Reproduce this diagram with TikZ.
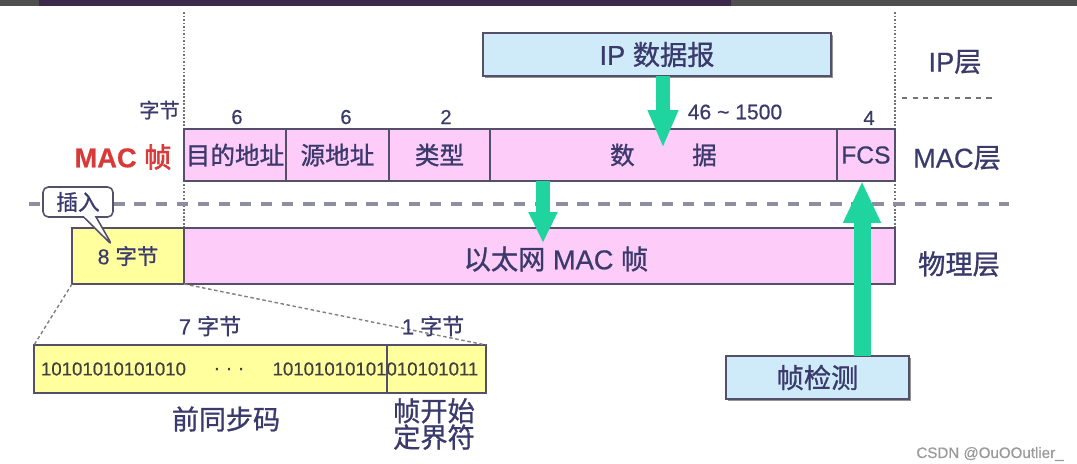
\documentclass[tikz,border=0pt]{standalone}
\usepackage{fontspec}
\setmainfont{Liberation Sans}[FakeBold=0.6]
\newfontfamily\cjk{Noto Sans CJK SC}[FakeBold=1.0,BoldFont={Noto Sans CJK SC},BoldFeatures={FakeBold=2.4}]
\usetikzlibrary{positioning,calc,shapes.callouts,shadows,arrows.meta}
\definecolor{inkcol}{HTML}{3A3A6C}
\definecolor{framecol}{HTML}{55506A}
\definecolor{pinkfill}{HTML}{FDCCF8}
\definecolor{yelfill}{HTML}{FFFF9E}
\definecolor{bluefill}{HTML}{CFEAF9}
\definecolor{arrowgreen}{HTML}{1FD49E}
\definecolor{guide}{HTML}{8E8EA0}
\definecolor{macred}{HTML}{D83A3A}
\definecolor{barpurple}{HTML}{3B2A4C}
\definecolor{bargrey}{HTML}{4F4F4F}
\definecolor{markgrey}{HTML}{9A9A9A}
\newcommand{\fsz}[1]{\fontsize{#1}{#1}\selectfont}

\begin{document}
\begin{tikzpicture}[x=0.02cm,y=-0.02cm,
    cellbox/.style={draw=framecol,line width=0.85pt,outer sep=0pt,inner sep=0pt,text=inkcol},
    macbox/.style={cellbox,fill=pinkfill,minimum height=1.04cm,font=\cjk\fsz{14}},
    phybox/.style={cellbox,minimum height=1.12cm},
    prebox/.style={cellbox,fill=yelfill,minimum height=0.96cm},
    bluebox/.style={cellbox,fill=bluefill,minimum height=0.86cm,font=\fsz{15.5},
        drop shadow={shadow xshift=1pt,shadow yshift=-1pt,fill=black!60,opacity=.7}},
    numlab/.style={text=inkcol,font=\fsz{11.5},inner sep=0pt},
    layerlab/.style={text=inkcol,font=\fsz{15.5},inner sep=0pt},
    sublab/.style={text=inkcol,font=\fsz{12.5},inner sep=0pt},
    bitlab/.style={text=black!75,font=\fsz{10.6},inner sep=0pt},
    callbox/.style={rectangle callout,draw=framecol,fill=white,line width=0.9pt,rounded corners=3pt,
        minimum width=1.4cm,minimum height=0.6cm,inner sep=0pt,text=inkcol,font=\cjk\fsz{12.3},
        callout pointer width=0.25cm},
    vguide/.style={draw=black!55,densely dotted,line width=1pt},
    layersep/.style={draw=guide,line width=2.2pt,dash pattern=on 6.5pt off 5.5pt},
    funnel/.style={draw=black!50,line width=0.8pt,dash pattern=on 2pt off 1.5pt},
    blockarrow/.style n args={3}{draw=arrowgreen,line width=#1,-{Triangle[width=#2,length=#3,fill=arrowgreen]}}
]
\useasboundingbox (0,0) rectangle (1077,463);
% video strip at the top
\fill[bargrey] (0,0) rectangle (1077,6);
\fill[barpurple] (39,0) rectangle (731,6);
% guides
\draw[vguide] (184,12) -- (184,228);
\draw[vguide] (895,12) -- (895,228);
\draw[draw=black!55,dashed,line width=1pt] (902,98) -- (992,98);
\draw[layersep] (29,204) -- (1009,204);

% IP layer
\node[bluebox,minimum width=6.96cm] (ip) at (657,54.5) {IP {\cjk 数据报}};

% MAC frame
\node[macbox,minimum width=2.04cm] (dst) at (235,155) {目的地址};
\node[macbox,minimum width=2.06cm,right=0pt of dst] (src) {源地址};
\node[macbox,minimum width=2.02cm,right=0pt of src] (type) {类型};
\node[macbox,minimum width=6.94cm,right=0pt of type] (data) {数\hspace{1.15cm}据};
\node[macbox,minimum width=1.16cm,right=0pt of data,font=\fsz{14}] (fcs) {FCS};

\node[numlab,anchor=east] (bytes) at (180,110) {\cjk 字节};
\node[numlab] (len6a) at (237,117) {6};
\node[numlab] (len6b) at (346,117) {6};
\node[numlab] (len2) at (446,117) {2};
\node[numlab,font=\fsz{12}] (lendata) at (735,112) {46 \char`\~{} 1500};
\node[numlab] (len4) at (869,118) {4};
\node[text=macred,font=\bfseries\fsz{15.5},inner sep=0pt] (maclab) at (123,157) {MAC {\cjk\bfseries 帧}};

% physical layer
\node[phybox,fill=yelfill,minimum width=2.24cm,font=\fsz{12.2}] (pre8) at (128,256) {8 {\cjk 字节}};
\node[phybox,fill=pinkfill,minimum width=14.22cm,right=0pt of pre8] (eth) {};
\node[layerlab] (ethtext) at (556,259) {{\cjk 以太网} MAC {\cjk 帧}};

\coordinate (insTip) at (112,245);
\node[callbox,callout absolute pointer={(insTip)}] (ins) at (78,202) {插入};

% layer names
\node[layerlab] (iplayer) at (955,62) {IP{\cjk 层}};
\node[layerlab] (maclayer) at (957,158) {MAC{\cjk 层}};
\node[layerlab,font=\cjk\fsz{15.5}] (phylayer) at (959,264) {物理层};

% preamble detail
\node[prebox,minimum width=7.06cm] (pre7) at (210.5,369) {};
\node[prebox,minimum width=1.98cm,right=0pt of pre7] (sfd) {};
\node[bitlab] (bitsL) at (113.5,369) {10101010101010};
\node[bitlab] (bitdots) at (229,369) {. . .};
\node[bitlab] (bitsR) at (375.5,369) {10101010101010101011};
\draw[funnel] (pre8.south west) -- (pre7.north west);
\draw[funnel] (pre8.south east) -- (sfd.north east);
\node[sublab] (bytes7) at (210,326) {7 {\cjk 字节}};
\node[sublab] (bytes1) at (433,326) {1 {\cjk 字节}};
\node[layerlab,font=\cjk\fsz{15.4}] (prelab) at (226,419) {前同步码};
\node[layerlab,font=\cjk\fontsize{15.5}{15}\selectfont,align=center] (sfdlab) at (434,424) {帧开始\\定界符};

% frame check
\node[bluebox,minimum width=3.66cm,font=\cjk\fsz{15.5}] (check) at (817.5,377.5) {帧检测};

% green arrows
\coordinate (dataTip) at (663,148);
\coordinate (ethTip) at (543,243);
\coordinate (fcsTip) at (862,181);
\draw[blockarrow={0.28cm}{0.56cm}{0.76cm}] (ip.south -| dataTip) -- (dataTip);
\draw[blockarrow={0.27cm}{0.54cm}{0.62cm}] (data.south -| ethTip) -- (ethTip);
\draw[blockarrow={0.34cm}{0.70cm}{0.84cm}] (check.north -| fcsTip) -- (fcsTip);

\node[text=markgrey,font=\fsz{8.6},inner sep=0pt] (mark) at (990,454) {CSDN @OuOOutlier\_};
\end{tikzpicture}
\end{document}
